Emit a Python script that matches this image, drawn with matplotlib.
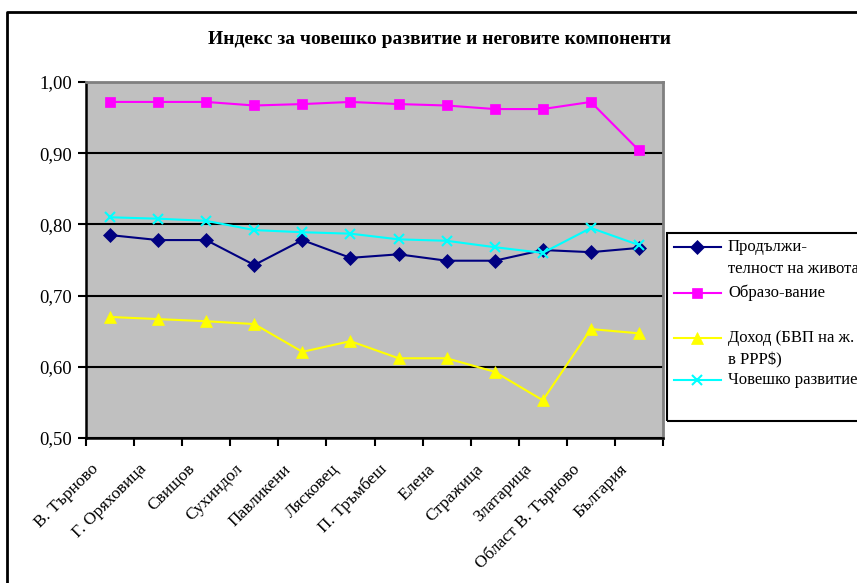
import matplotlib
matplotlib.use('Agg')
import matplotlib.pyplot as plt
from matplotlib.lines import Line2D
from matplotlib.transforms import ScaledTranslation
import numpy as np

# Данни
categories = ['В. Търново', 'Г. Оряховица', 'Свищов', 'Сухиндол', 'Павликени',
              'Лясковец', 'П. Тръмбеш', 'Елена', 'Стражица', 'Златарица',
              'Област В. Търново', 'България']
life = [0.785, 0.778, 0.778, 0.743, 0.778, 0.753, 0.758, 0.749, 0.749, 0.764, 0.761, 0.767]
education = [0.972, 0.972, 0.972, 0.967, 0.969, 0.972, 0.969, 0.967, 0.962, 0.962, 0.972, 0.904]
income = [0.670, 0.667, 0.664, 0.660, 0.621, 0.636, 0.612, 0.612, 0.593, 0.553, 0.653, 0.647]
hdi = [0.810, 0.808, 0.805, 0.792, 0.789, 0.787, 0.779, 0.777, 0.768, 0.760, 0.795, 0.771]
yticks = [0.5, 0.6, 0.7, 0.8, 0.9, 1.0]
title = 'Индекс за човешко развитие и неговите компоненти'

series = [
    (life, '#000080', 'D', 7, ['Продължи-', 'телност на живота']),
    (education, '#FF00FF', 's', 7.5, ['Образо-вание']),
    (income, '#FFFF00', '^', 8.5, ['Доход (БВП на ж.', 'в PPP$)']),
    (hdi, '#00FFFF', 'x', 6.5, ['Човешко развитие']),
]

plt.rcParams['font.family'] = ['Liberation Serif', 'DejaVu Serif']

W, H = 857, 583
fig = plt.figure(figsize=(W / 100, H / 100), dpi=100)


def fx(px):
    return px / W


def fy(py):
    return 1 - py / H


ax = fig.add_axes([fx(86), fy(438), fx(663) - fx(86), fy(82) - fy(438)])
ax.set_facecolor('#C0C0C0')

x = np.arange(len(categories)) + 0.5
for vals, color, marker, ms, _ in series:
    ax.plot(x, vals, color=color, lw=1.5, marker=marker, ms=ms,
            markeredgewidth=1.5 if marker == 'x' else 0.5,
            markeredgecolor=color, markerfacecolor=color, zorder=3)

ax.set_xlim(0, len(categories))
ax.set_ylim(0.5, 1.0)
ax.set_yticks(yticks)
ax.set_yticklabels([f'{v:.2f}'.replace('.', ',') for v in yticks], fontsize=13.5)
ax.set_xticks(np.arange(len(categories) + 1))
ax.set_xticklabels([])
ax.set_xticks(x, minor=True)
ax.set_xticklabels(categories, minor=True, rotation=45, ha='right',
                   va='top', fontsize=12.5)
ax.tick_params(axis='x', which='minor', length=0, pad=8)
# сваляне на надписите малко наляво и надолу
shift = ScaledTranslation(-8 / 100, -12 / 100, fig.dpi_scale_trans)
for lbl in ax.get_xticklabels(minor=True):
    lbl.set_transform(lbl.get_transform() + shift)
ax.tick_params(axis='both', which='major', direction='out', length=6,
               width=1.5, color='black')
ax.tick_params(axis='y', pad=4)
ax.grid(axis='y', color='black', lw=1.5)
ax.set_axisbelow(True)
for side in ['left', 'bottom']:
    ax.spines[side].set_color('black')
    ax.spines[side].set_linewidth(1.8)
for side in ['top', 'right']:
    ax.spines[side].set_color('#808080')
    ax.spines[side].set_linewidth(2)

fig.text(fx(440), fy(40), title, ha='center', va='center',
         fontsize=14, fontweight='bold')

# Рамка около диаграмата
fig.add_artist(Line2D([fx(7), fx(7), fx(W + 5)], [fy(H + 5), fy(12), fy(12)],
                      color='black', lw=2))

# Легенда
fig.add_artist(plt.Rectangle((fx(667), fy(421)), fx(W + 10) - fx(667),
                             fy(233) - fy(421), fill=False, edgecolor='black',
                             lw=1.5))
entry_y = [247, 293, 338, 380]
for (vals, color, marker, ms, lines), ey in zip(series, entry_y):
    fig.add_artist(Line2D([fx(674), fx(721)], [fy(ey), fy(ey)], color=color, lw=1.5))
    fig.add_artist(Line2D([fx(697)], [fy(ey)], color=color, marker=marker, ms=ms,
                          markeredgewidth=1.5 if marker == 'x' else 0.5,
                          markeredgecolor=color, markerfacecolor=color))
    for i, line in enumerate(lines):
        fig.text(fx(728), fy(ey + 22 * i), line, ha='left', va='center',
                 fontsize=12)

fig.savefig('out.png', dpi=100)
